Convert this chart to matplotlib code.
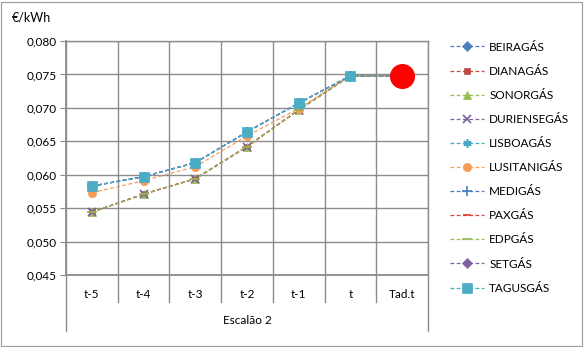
import matplotlib
matplotlib.use("Agg")
import matplotlib.pyplot as plt
from matplotlib.lines import Line2D
from matplotlib.patches import Rectangle

plt.rcParams['font.family'] = ['Lato', 'DejaVu Sans']

categories = ["t-5", "t-4", "t-3", "t-2", "t-1", "t", "Tad.t"]
group_label = "Escalão 2"

upper = [0.0583, 0.0597, 0.0618, 0.0664, 0.0707, 0.0748, 0.0748]
orange = [0.0573, 0.0591, 0.0612, 0.0658, 0.0699, 0.0748, 0.0748]
lower = [0.0544, 0.0571, 0.0594, 0.0642, 0.0697, 0.0748, 0.0748]
tariff_value = 0.0747

series_names = ["BEIRAGÁS", "DIANAGÁS", "SONORGÁS", "DURIENSEGÁS", "LISBOAGÁS",
                "LUSITANIGÁS", "MEDIGÁS", "PAXGÁS", "EDPGÁS", "SETGÁS", "TAGUSGÁS"]
series_values = [upper, lower, lower, lower, upper, orange, upper, lower, lower, upper, upper]
series_colors = ["#4A7EBB", "#BE4B48", "#98B954", "#7D60A0", "#46AAC4",
                 "#F59D56", "#4A7EBB", "#D9403C", "#98B954", "#7D60A0", "#4BACC6"]
series_markers = ["D", "s", "^", "x", (6, 2, 0), "o", "+", "_", "_", "D", "s"]
marker_sizes = [5, 5, 6, 6, 6, 6, 7, 6, 7, 5, 7]

W, H = 584, 347
fig = plt.figure(figsize=(W / 100, H / 100), dpi=100)
fig.patch.set_facecolor("white")
fig.add_artist(Rectangle((1 / W, 1 / H), (W - 3) / W, (H - 3) / H, transform=fig.transFigure,
                         fill=False, edgecolor="#9a9a9a", linewidth=0.8))

left, right, top, bottom = 66, 428, 41, 275
ax = fig.add_axes([left / W, (H - bottom) / H, (right - left) / W, (bottom - top) / H])

x = list(range(len(categories)))
for name, vals, col, mk, ms in zip(series_names, series_values, series_colors, series_markers, marker_sizes):
    ax.plot(x, vals, linestyle=(0, (3, 2)), linewidth=0.9, color=col, marker=mk,
            markersize=ms, markeredgecolor=col, markerfacecolor=col, label=name,
            markeredgewidth=1.2 if mk in ("x", "+", "_") or isinstance(mk, tuple) else 0.5)

ax.plot([x[-1]], [tariff_value], marker="o", markersize=17, color="#FF0000",
        linestyle="none", zorder=10)

ax.set_xlim(-0.5, len(categories) - 0.5)
ax.set_ylim(0.045, 0.080)
ax.set_yticks([0.045 + 0.005 * i for i in range(8)])
ax.set_yticklabels([f"{0.045 + 0.005 * i:.3f}".replace(".", ",") for i in range(8)], fontsize=8.5)
ax.tick_params(axis="y", length=4, color="#888888", pad=3)
ax.set_xticks([i - 0.5 for i in range(len(categories) + 1)], minor=False)
ax.set_xticklabels([])
ax.tick_params(axis="x", length=0)
ax.grid(True, color="#8c8c8c", linewidth=1.0)
ax.set_axisbelow(True)
for s in ax.spines.values():
    s.set_color("#8c8c8c")
    s.set_linewidth(1.0)
ax.spines["left"].set_linewidth(1.3)
ax.spines["bottom"].set_linewidth(1.3)

# category labels and group box
trans = ax.get_xaxis_transform()
ph = bottom - top
def yax(py):
    return (bottom - py) / ph
for i, c in enumerate(categories):
    ax.text(i, yax(294), c, transform=trans, ha="center", va="center", fontsize=8.5)
for i in range(len(categories) + 1):
    yend = yax(331) if i in (0, len(categories)) else yax(302)
    ax.add_line(Line2D([i - 0.5, i - 0.5], [0, yend], transform=trans, color="#8c8c8c",
                       linewidth=1.0, clip_on=False))
ax.text((len(categories) - 1) / 2, yax(321), group_label, transform=trans, ha="center",
        va="center", fontsize=8.5)

fig.text(12 / W, 1 - 18 / H, "€/kWh", fontsize=9, ha="left", va="center")

handles, labels = ax.get_legend_handles_labels()
leg = fig.legend(handles, labels, loc="upper left", bbox_to_anchor=(439 / W, 1 - 31 / H),
                 frameon=False, fontsize=8.5, handlelength=2.9, labelspacing=1.11,
                 handletextpad=0.45)

fig.savefig("out.png", dpi=100, facecolor="white")
